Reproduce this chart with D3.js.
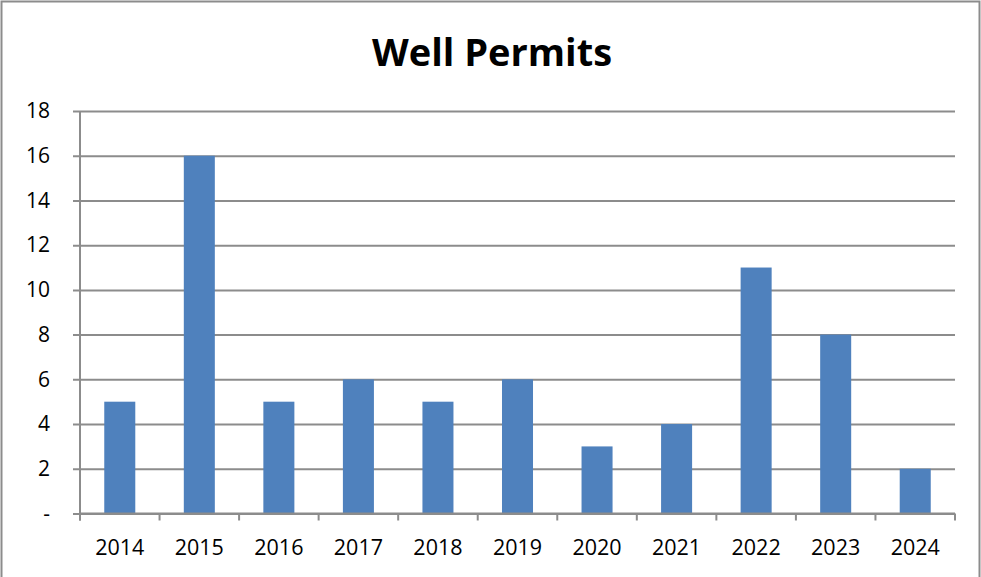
<!DOCTYPE html>
<html>
<head>
<meta charset="utf-8">
<script src="https://cdn.jsdelivr.net/npm/d3@7"></script>
<style>
  body { margin: 0; background: #fff; }
  text { font-family: "Open Sans", "Noto Sans", sans-serif; }
</style>
</head>
<body>
<div id="chart"></div>
<script>
// datos del grafico
var years = ['2014', '2015', '2016', '2017', '2018', '2019', '2020', '2021', '2022', '2023', '2024'];
var permits = [5, 16, 5, 6, 5, 6, 3, 4, 11, 8, 2];
var yTicks = [0, 2, 4, 6, 8, 10, 12, 14, 16, 18];
var titulo = 'Well Permits';

var chart_width = 981;
var chart_height = 577;
var m_left = 80, m_right = 955, m_top = 111, m_bottom = 513.5;

var svg = d3.select('#chart').append('svg')
    .attr('width', chart_width)
    .attr('height', chart_height);

// marco exterior
svg.append('rect')
    .attr('x', 1.5).attr('y', 1.5)
    .attr('width', chart_width - 3).attr('height', chart_height + 5)
    .attr('fill', 'none')
    .attr('stroke', '#8c8c8c')
    .attr('stroke-width', 2);

// ESCALAS
var scale_x = d3.scaleBand()
    .domain(years)
    .range([m_left, m_right])
    .paddingInner(0.61)
    .paddingOuter(0.305);

var scale_y = d3.scaleLinear()
    .domain([0, 18])
    .range([m_bottom, m_top]);

// lineas de la grilla + eje Y
var gy = svg.append('g')
    .attr('transform', 'translate(' + m_left + ',0)')
    .call(d3.axisLeft(scale_y).tickValues(yTicks).tickSize(-(m_right - m_left)).tickSizeOuter(0)
        .tickFormat(function (d) { return d === 0 ? '-' : d; }));
gy.select('.domain').remove();
gy.selectAll('.tick line')
    .attr('x1', -7)
    .attr('stroke', '#8c8c8c')
    .attr('stroke-width', 2);
gy.selectAll('.tick text')
    .attr('x', -30)
    .attr('font-size', 21)
    .attr('fill', '#000')
    .attr('font-family', '"Open Sans", "Noto Sans", sans-serif');

// barras
svg.append('g').selectAll('rect')
    .data(permits)
    .enter().append('rect')
    .attr('x', function (d, i) { return scale_x(years[i]); })
    .attr('y', function (d) { return scale_y(d); })
    .attr('width', scale_x.bandwidth())
    .attr('height', function (d) { return scale_y(0) - scale_y(d); })
    .attr('fill', '#4f81bd');

// eje Y (linea vertical)
svg.append('line')
    .attr('x1', m_left).attr('x2', m_left)
    .attr('y1', m_top).attr('y2', m_bottom + 7)
    .attr('stroke', '#8c8c8c')
    .attr('stroke-width', 2);

// eje X
var step = (m_right - m_left) / years.length;
var gx = svg.append('g');
gx.append('line')
    .attr('x1', m_left).attr('x2', m_right)
    .attr('y1', m_bottom).attr('y2', m_bottom)
    .attr('stroke', '#8c8c8c')
    .attr('stroke-width', 2);
gx.selectAll('line.tk')
    .data(d3.range(years.length + 1))
    .enter().append('line')
    .attr('class', 'tk')
    .attr('x1', function (i) { return m_left + i * step; })
    .attr('x2', function (i) { return m_left + i * step; })
    .attr('y1', m_bottom).attr('y2', m_bottom + 7)
    .attr('stroke', '#8c8c8c')
    .attr('stroke-width', 2);
gx.selectAll('text')
    .data(years)
    .enter().append('text')
    .attr('x', function (d) { return scale_x(d) + scale_x.bandwidth() / 2; })
    .attr('y', 555)
    .attr('text-anchor', 'middle')
    .attr('font-size', 21.5)
    .text(function (d) { return d; });

// TITULO
svg.append('text')
    .attr('x', 492)
    .attr('y', 66)
    .attr('text-anchor', 'middle')
    .attr('font-size', 38)
    .attr('font-weight', 'bold')
    .text(titulo);
</script>
</body>
</html>
